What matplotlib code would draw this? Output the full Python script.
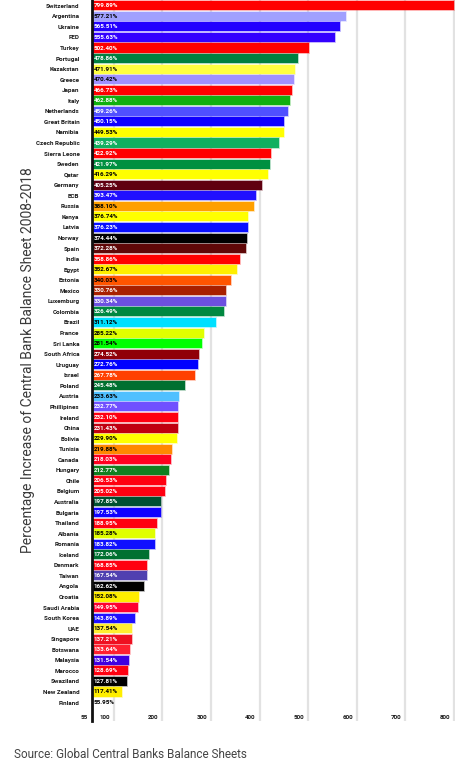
import matplotlib
matplotlib.use("Agg")
import matplotlib.pyplot as plt
import matplotlib.colors as mcolors
from matplotlib.transforms import ScaledTranslation

countries = ["Switzerland", "Argentina", "Ukraine", "FED", "Turkey", "Portugal", "Kazakstan",
             "Greece", "Japan", "Italy", "Netherlands", "Great Britain", "Namibia", "Czech Republic",
             "Sierra Leone", "Sweden", "Qatar", "Germany", "ECB", "Russia", "Kenya", "Latvia",
             "Norway", "Spain", "India", "Egypt", "Estonia", "Mexico", "Luxemburg", "Colombia",
             "Brazil", "France", "Sri Lanka", "South Africa", "Uruguay", "Israel", "Poland",
             "Austria", "Phillipines", "Ireland", "China", "Bolivia", "Tunisia", "Canada",
             "Hungary", "Chile", "Belgium", "Australia", "Bulgaria", "Thailand", "Albania",
             "Romania", "Iceland", "Denmark", "Taiwan", "Angola", "Croatia", "Saudi Arabia",
             "South Korea", "UAE", "Singapore", "Botswana", "Malaysia", "Marocco", "Swaziland",
             "New Zealand", "Finland"]

values = [799.89, 577.21, 565.51, 555.63, 502.40, 478.86, 471.91,
          470.42, 466.73, 462.88, 459.26, 450.15, 449.53, 439.29,
          422.92, 421.97, 416.29, 405.25, 393.47, 388.10, 376.74, 376.23,
          374.44, 372.28, 358.86, 352.67, 340.03, 330.76, 330.34, 326.49,
          311.12, 285.22, 281.54, 274.52, 272.76, 267.78, 245.48,
          233.63, 232.77, 232.10, 231.43, 229.90, 219.88, 218.03,
          212.77, 206.53, 205.02, 197.85, 197.53, 188.95, 185.28,
          183.82, 172.06, 168.85, 167.54, 162.62, 152.08, 149.95,
          143.89, 137.54, 137.21, 133.64, 131.54, 128.69, 127.81,
          117.41, 55.95]

colors = ["#ff0000", "#a0a0ff", "#2200ff", "#3300ff", "#ff0000", "#008040", "#ffff40",
          "#a090ff", "#ff0000", "#10b010", "#5050ff", "#1000ff", "#ffff00", "#10b060",
          "#ff0000", "#009040", "#ffff00", "#600010", "#2010ff", "#ffa000", "#ffff00", "#0a10ff",
          "#000000", "#600808", "#ff0000", "#ffee00", "#ff5500", "#a82000", "#6c50e0", "#008840",
          "#00e0ff", "#e0ff00", "#00ff00", "#900008", "#0000ff", "#ff4000", "#007030",
          "#50c0ff", "#7050ff", "#ff0010", "#c00010", "#ffff00", "#ff8800", "#ff0020",
          "#108020", "#ff0010", "#ff0010", "#005030", "#1000ff", "#ff0010", "#e0ff00",
          "#1010ff", "#007030", "#ff0010", "#5040b0", "#000000", "#ffee00", "#ff0030",
          "#2010ff", "#ffee30", "#ee1020", "#ff2030", "#4000e0", "#ff0010", "#000000",
          "#ffee00", "#3030c0"]

x_ticks = [55, 100, 200, 300, 400, 500, 600, 700, 800]
x_min = 55
y_title = "Percentage Increase of Central Bank Balance Sheet 2008-2018"
source = "Source: Global Central Banks Balance Sheets"

W, H = 471, 767
fig = plt.figure(figsize=(W / 100, H / 100), dpi=100)
ax = fig.add_axes([92 / W, (H - 721) / H, 363 / W, 721 / H])

n = len(countries)
pos = list(range(n))
widths = [v - x_min for v in values]
edge = [mcolors.to_rgba(c, 0.35) for c in colors]
ax.barh(pos, widths, left=x_min, height=0.86, color=colors, edgecolor=edge,
        linewidth=1.2, zorder=2)

ax.set_xlim(x_min, 802)
ax.set_ylim(n - 1 + 1.75, -0.55)

for t in x_ticks[1:]:
    ax.axvline(t, color="#e2e2e2", lw=1.6, zorder=1)

for s in ["top", "right", "bottom"]:
    ax.spines[s].set_visible(False)
ax.spines["left"].set_linewidth(2)
ax.spines["left"].set_color("#111111")
ax.spines["left"].set_zorder(3)

ax.set_yticks(pos)
ax.set_yticklabels(countries, fontsize=4.5, fontweight="bold", family="Roboto", color="#1a1a1a")
ax.tick_params(axis="y", length=0, pad=9)
ax.set_xticks([])

lab_font = dict(fontsize=4.5, fontweight="bold", family="Roboto")
for p, v, c in zip(pos, values, colors):
    r, g, b = mcolors.to_rgb(c)
    bright = 0.299 * r + 0.587 * g + 0.114 * b
    tc = "black" if (bright > 0.48 or v < 70) else "white"
    ax.text(x_min + 3.5, p, f"{v:.2f}%", va="center", ha="left", color=tc, zorder=4, **lab_font)

off = ScaledTranslation(-4 / 100, 0, fig.dpi_scale_trans)
for t in x_ticks:
    ax.text(t, n - 1 + 1.4, str(t), ha="right", va="center", color="#1a1a1a",
            transform=ax.transData + off, fontsize=4.5, fontweight="bold", family="Roboto")

fig.text(28 / W, 1 - 360 / H, y_title, rotation=90, ha="center", va="center",
         fontsize=10, family="Roboto", color="#3a3a3a")
fig.text(14 / W, 1 - 755 / H, source, ha="left", va="center", fontsize=8.5,
         family="Roboto", color="#444444")

fig.savefig("out.png", dpi=100)
